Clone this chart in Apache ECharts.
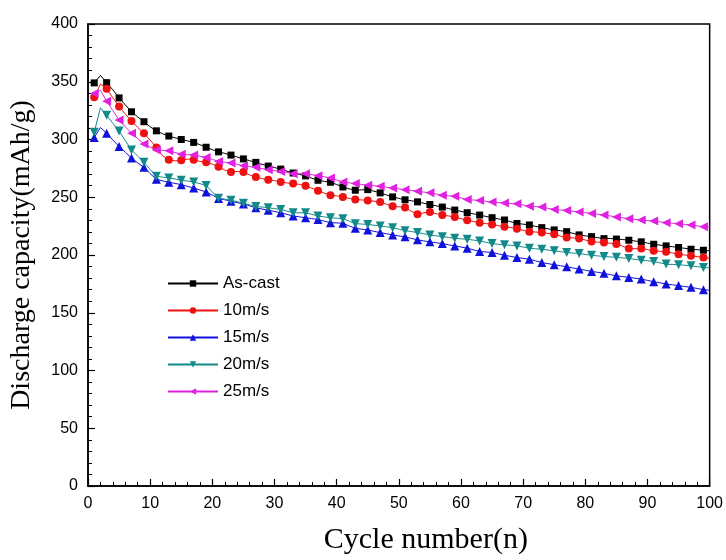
<!DOCTYPE html>
<html>
<head>
<meta charset="utf-8">
<script src="https://cdn.jsdelivr.net/npm/echarts@6/dist/echarts.min.js"></script>
<style>
  html, body { margin: 0; padding: 0; background: #fff; }
  #chart { width: 726px; height: 560px; }
</style>
</head>
<body>
<div id="chart"></div>
<script>
// Cycle index 1..100
const cycles = Array.from({ length: 100 }, (_, i) => i + 1);

// Discharge capacity (mAh/g) per cycle
const asCast = [
  349, 355.5, 349.2, 343, 336, 330, 324, 319.5, 315.4, 311,
  307.5, 305, 303, 301.5, 300, 298.8, 297.5, 295.5, 293.3, 291.2,
  289.3, 288, 286.5, 284.8, 283.2, 281.7, 280.2, 278.5, 277, 275.7,
  274.4, 272.6, 271, 269.8, 268.5, 266.5, 264.7, 263.8, 263, 261,
  258.9, 257.3, 256.1, 256.4, 256.6, 255.2, 253.8, 252, 250.3, 249,
  247.8, 247, 246, 244.8, 243.7, 242.6, 241.5, 240.2, 238.9, 237.8,
  236.6, 235.6, 234.6, 233.4, 232.3, 231.3, 230.3, 228.8, 227.3, 226.7,
  226, 224.8, 223.7, 222.7, 221.7, 221, 220.2, 218.8, 217.4, 216.6,
  215.9, 215, 214.2, 214.3, 213.8, 213.4, 212.8, 212.1, 211.4, 210.3,
  209.3, 208.6, 207.9, 207.2, 206.5, 205.8, 205, 204.6, 204.1, 203.6
];
const v10 = [
  336.5, 348, 344, 336, 328.5, 322, 316, 310.5, 305.5, 299.5,
  293, 286, 282.4, 281.5, 282, 283, 282.4, 281, 280.2, 278.6,
  276.5, 273.5, 271.8, 272.4, 271.8, 269.3, 267.5, 266.2, 265.2, 264.4,
  263.3, 262.4, 261.8, 261.2, 260, 257.8, 255.7, 253.6, 251.8, 251.2,
  250.3, 249, 248, 247.7, 247.2, 246.6, 245.8, 244, 242.3, 241.7,
  241.2, 237.8, 235.3, 236.5, 237.2, 235.8, 234.6, 233.8, 232.9, 231.4,
  230, 229, 228, 227.2, 226.5, 225.4, 224.5, 223.7, 222.8, 221.4,
  220.2, 219.9, 219.4, 218.7, 217.9, 216.4, 215.1, 214.8, 214.2, 213,
  211.6, 211.2, 210.8, 210.2, 209.5, 207.5, 205.6, 205.4, 205.6, 204.7,
  203.6, 203.2, 202.8, 201.8, 200.7, 200, 199.3, 198.6, 197.8, 197.2
];
const v15 = [
  301.7, 310.3, 305.4, 299.5, 294, 289, 283.9, 279.8, 275.9, 270.5,
  265.5, 264.2, 263, 262, 260.9, 259.4, 258.1, 256.3, 254.5, 251.8,
  248.9, 247.8, 246.6, 245.3, 244.2, 242.6, 240.9, 239.8, 238.7, 237.7,
  236.6, 235.2, 233.7, 233, 232.3, 231.5, 230.8, 229.3, 228, 227.8,
  227.5, 225.2, 223.1, 222.4, 221.7, 220.5, 219.4, 218.4, 217.4, 216.5,
  215.7, 214.4, 213.1, 212.2, 211.4, 210.6, 209.9, 208.8, 207.9, 206.9,
  205.9, 204.5, 203, 202.6, 202.2, 201, 199.8, 198.8, 197.8, 197.1,
  196.4, 194.9, 193.5, 192.5, 191.6, 190.7, 189.9, 188.8, 187.8, 186.8,
  185.8, 185, 184.1, 183, 182, 181.3, 180.6, 179.9, 179.2, 178,
  176.9, 175.9, 174.9, 174.2, 173.5, 172.7, 172, 171, 170, 169.5
];
const v20 = [
  306.2, 327.5, 321.1, 314, 307.4, 299, 291, 285.5, 280.4, 274,
  268.1, 267.4, 266.7, 265.8, 264.7, 264, 263.2, 261.8, 260.2, 254.6,
  249.2, 248.3, 247.4, 246.2, 244.9, 243.4, 242, 241.5, 240.9, 240.2,
  239.4, 238, 236.6, 236.6, 236.6, 235.2, 233.7, 233, 232.3, 231.9,
  231.4, 229.3, 227.1, 226.8, 226.5, 225.8, 225.1, 224.4, 223.7, 222.4,
  221.1, 220.3, 219.4, 218.4, 217.4, 216.6, 215.9, 215.2, 214.5, 214,
  213.6, 212.9, 212.2, 211, 209.9, 209.3, 208.8, 208.4, 207.9, 206.9,
  205.9, 205.4, 205, 204.3, 203.6, 202.9, 202.2, 201.7, 201.3, 200.5,
  199.8, 199.2, 198.7, 198.3, 198, 197.5, 197, 196.2, 195.5, 195,
  194.4, 193.2, 192.1, 191.8, 191.6, 191.1, 190.7, 189.9, 189.2, 188.8
];
const v25 = [
  339.8, 342.6, 333.2, 325, 316.8, 311, 305.4, 300.8, 296.2, 293.4,
  291, 290.6, 290.2, 288.8, 287.3, 286.9, 286.5, 285.5, 284.5, 282.8,
  281, 280.3, 279.6, 278.5, 277.3, 276.6, 275.9, 274.8, 273.8, 273.1,
  272.4, 271.4, 270.4, 270.4, 270.4, 269.5, 268.7, 267.7, 266.7, 265,
  263.2, 262.5, 261.8, 261.1, 260.4, 260, 259.5, 258.7, 258, 257.3,
  256.6, 255.9, 255.2, 254.5, 253.8, 252.8, 251.8, 251.3, 250.9, 249.4,
  248, 247.6, 247.2, 246.5, 245.8, 245.4, 245, 244.6, 244.3, 243.3,
  242.3, 241.9, 241.5, 240.4, 239.4, 239, 238.6, 237.9, 237.2, 236.6,
  236, 235.3, 234.6, 233.8, 233, 232.2, 231.4, 230.8, 230.3, 229.8,
  229.4, 228.7, 228, 227.5, 227.1, 226.5, 226, 225.2, 224.5, 224
];

const seriesNames = ['As-cast', '10m/s', '15m/s', '20m/s', '25m/s'];
const seriesValues = [asCast, v10, v15, v20, v25];
const seriesColors = ['#000000', '#ee1111', '#1111dd', '#138a8a', '#e022e0'];
const seriesSymbols = ['rect', 'circle', 'triangle', 'triangle', 'triangle'];
const symbolRotations = [0, 0, 0, 180, 90];
const symbolSizes = [7, 8, 9, 9, 9];

const SANS = '"Liberation Sans", Arial, sans-serif';
const SERIF = '"Liberation Serif", "Times New Roman", serif';

// markers are drawn on every other cycle (odd cycles), the line joins every cycle
function toPoints(values) {
  return values.map((v, i) => (i % 2 === 0)
    ? [cycles[i], v]
    : { value: [cycles[i], v], symbol: 'none' });
}

const series = seriesNames.map((name, k) => ({
  name: name,
  type: 'line',
  data: toPoints(seriesValues[k]),
  symbol: seriesSymbols[k],
  symbolSize: symbolSizes[k],
  symbolRotate: symbolRotations[k],
  showAllSymbol: true,
  lineStyle: { width: 1, color: seriesColors[k] },
  itemStyle: { color: seriesColors[k] },
  emphasis: { disabled: true },
  z: 2 + k
}));

const chart = echarts.init(document.getElementById('chart'), null, { renderer: 'canvas' });
chart.setOption({
  animation: false,
  backgroundColor: '#ffffff',
  grid: {
    left: 86, right: 16, top: 24, bottom: 70,
    show: true, borderColor: '#000', borderWidth: 1.5, backgroundColor: 'transparent'
  },
  legend: {
    orient: 'vertical',
    left: 162,
    top: 270,
    itemWidth: 50,
    itemHeight: 8,
    itemGap: 10,
    data: seriesNames,
    textStyle: { fontFamily: SANS, fontSize: 17, color: '#000' }
  },
  xAxis: {
    type: 'value',
    min: 0, max: 100, interval: 10,
    name: 'Cycle number(n)',
    nameLocation: 'middle',
    nameGap: 39,
    nameTextStyle: { fontFamily: SERIF, fontSize: 30, color: '#000', padding: [0, 0, 0, 54] },
    axisLine: { show: true, lineStyle: { color: '#000', width: 1.5 } },
    axisTick: { show: true, inside: true, length: 7, lineStyle: { color: '#000', width: 1.2 } },
    minorTick: { show: true, splitNumber: 5, length: 4, lineStyle: { color: '#000', width: 1 } },
    axisLabel: { fontFamily: SANS, fontSize: 16, color: '#000', margin: 10 },
    splitLine: { show: false }
  },
  yAxis: {
    type: 'value',
    min: 0, max: 400, interval: 50,
    name: 'Discharge capacity(mAh/g)',
    nameLocation: 'middle',
    nameGap: 52,
    nameTextStyle: { fontFamily: SERIF, fontSize: 28, color: '#000' },
    axisLine: { show: true, lineStyle: { color: '#000', width: 1.5 } },
    axisTick: { show: true, inside: true, length: 7, lineStyle: { color: '#000', width: 1.2 } },
    minorTick: { show: true, splitNumber: 5, length: 4, lineStyle: { color: '#000', width: 1 } },
    axisLabel: { fontFamily: SANS, fontSize: 16, color: '#000', margin: 10 },
    splitLine: { show: false }
  },
  series: series
});
</script>
</body>
</html>
